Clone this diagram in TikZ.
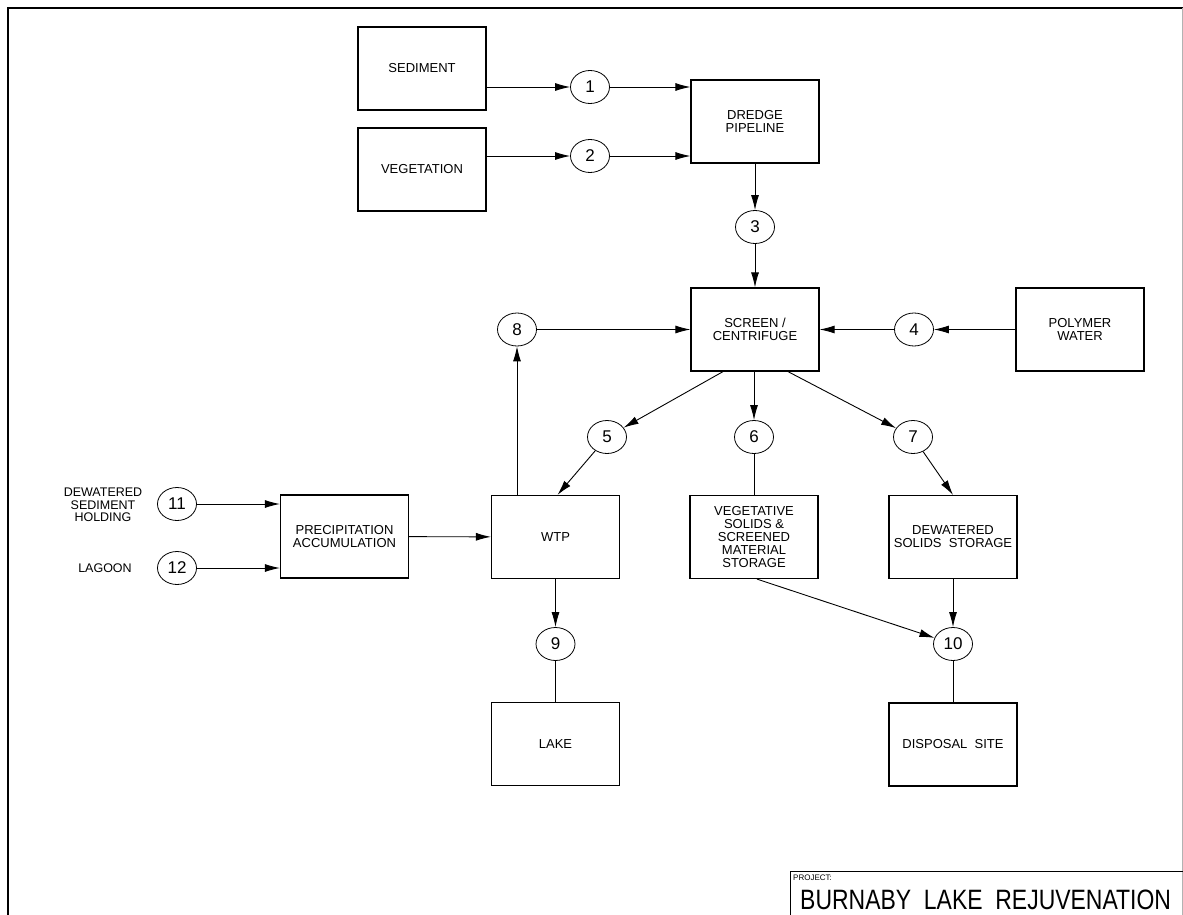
\documentclass[tikz,border=0pt]{standalone}
\usepackage{fontspec}
\setmainfont{Liberation Sans}
\usetikzlibrary{arrows.meta,calc,shapes.geometric}
\begin{document}
\begin{tikzpicture}[x=1pt,y=-1pt,
  box/.style={draw,line width=1.2pt,minimum width=128pt,minimum height=83pt,inner sep=0pt,align=center,font=\fontsize{13}{13}\selectfont},
  num/.style={draw,ellipse,line width=0.8pt,minimum width=39pt,minimum height=33pt,inner sep=0pt,font=\fontsize{17}{17}\selectfont},
  lbl/.style={align=center,inner sep=0pt,font=\fontsize{12.5}{12.3}\selectfont},
  arr/.style={line width=0.9pt,-{Latex[length=15pt,width=8pt]}},
  ln/.style={line width=0.9pt}]
\useasboundingbox (0,0) rectangle (1183,915);
% frame
\draw[line width=2pt] (8,915) -- (8,8) -- (1183,8);
\draw[line width=1pt,gray!60] (1182,8) -- (1182,915);
% title block
\draw[line width=1pt] (790,915) -- (790,871) -- (1183,871);
\node[anchor=west,inner sep=0pt,font=\fontsize{8}{8}\selectfont] (proj) at (793,878) {PROJECT:};
\node[anchor=base west,inner sep=0pt] (title) at (800,909) {\scalebox{0.82}[1]{\fontsize{28}{28}\selectfont BURNABY\ \ LAKE\ \ REJUVENATION}};
% boxes
\node[box] (sed) at (422,68.5) {SEDIMENT};
\node[box] (veg) at (422,169.5) {VEGETATION};
\node[box] (dre) at (755,121.5) {DREDGE\\PIPELINE};
\node[box] (scr) at (755,329.5) {SCREEN /\\CENTRIFUGE};
\node[box] (pol) at (1080,329.5) {POLYMER\\WATER};
\node[box] (pre) at (344.5,536.5) {PRECIPITATION\\ACCUMULATION};
\node[box] (wtp) at (555.5,537) {WTP};
\node[box] (vss) at (754,537) {VEGETATIVE\\SOLIDS \&\\SCREENED\\MATERIAL\\STORAGE};
\node[box] (dss) at (953,537) {DEWATERED\\SOLIDS\ \ STORAGE};
\node[box] (lak) at (555.5,744) {LAKE};
\node[box] (dis) at (953,744.5) {DISPOSAL\ \ SITE};
% circles
\node[num] (c1) at (590,87) {1};
\node[num] (c2) at (590,156) {2};
\node[num] (c3) at (755,227) {3};
\node[num] (c4) at (914,329.5) {4};
\node[num] (c5) at (607,437) {5};
\node[num] (c6) at (754,437) {6};
\node[num] (c7) at (913,437) {7};
\node[num] (c8) at (517,329.5) {8};
\node[num] (c9) at (555.5,644) {9};
\node[num] (c10) at (953,644) {10};
\node[num] (c11) at (177,504) {11};
\node[num] (c12) at (177,568) {12};
% side labels
\node[lbl] (dsh) at (103,505) {DEWATERED\\SEDIMENT\\HOLDING};
\node[lbl] (lag) at (105,568) {LAGOON};
% connectors
\draw[arr] (sed.east |- c1) -- (c1);
\draw[arr] (c1) -- (c1 -| dre.west);
\draw[arr] (veg.east |- c2) -- (c2);
\draw[arr] (c2) -- (c2 -| dre.west);
\draw[arr] (dre) -- (c3);
\draw[arr] (c3) -- (scr);
\draw[arr] (pol) -- (c4);
\draw[arr] (c4) -- (scr);
\draw[arr] (c8) -- (scr);
\draw[arr] (c8 |- wtp.north) -- (c8);
\draw[arr] ($(scr.south)+(-32,0)$) -- (c5);
\draw[arr] (scr.south -| c6) -- (c6);
\draw[arr] ($(scr.south)+(33,0)$) -- (c7);
\draw[arr] (c5) -- ($(wtp.north)+(2,0)$);
\draw[arr] (c7) -- (dss.north);
\draw[ln] (c6) -- (c6 |- vss.north);
\draw[arr] (c11) -- (c11 -| pre.west);
\draw[arr] (c12) -- (c12 -| pre.west);
\draw[arr] (pre) -- (wtp);
\draw[arr] (wtp) -- (c9);
\draw[ln] (c9) -- (lak);
\draw[arr] (dss) -- (c10);
\draw[arr] ($(vss.south)+(3,0)$) -- (c10);
\draw[ln] (c10) -- (dis);
\end{tikzpicture}
\end{document}
